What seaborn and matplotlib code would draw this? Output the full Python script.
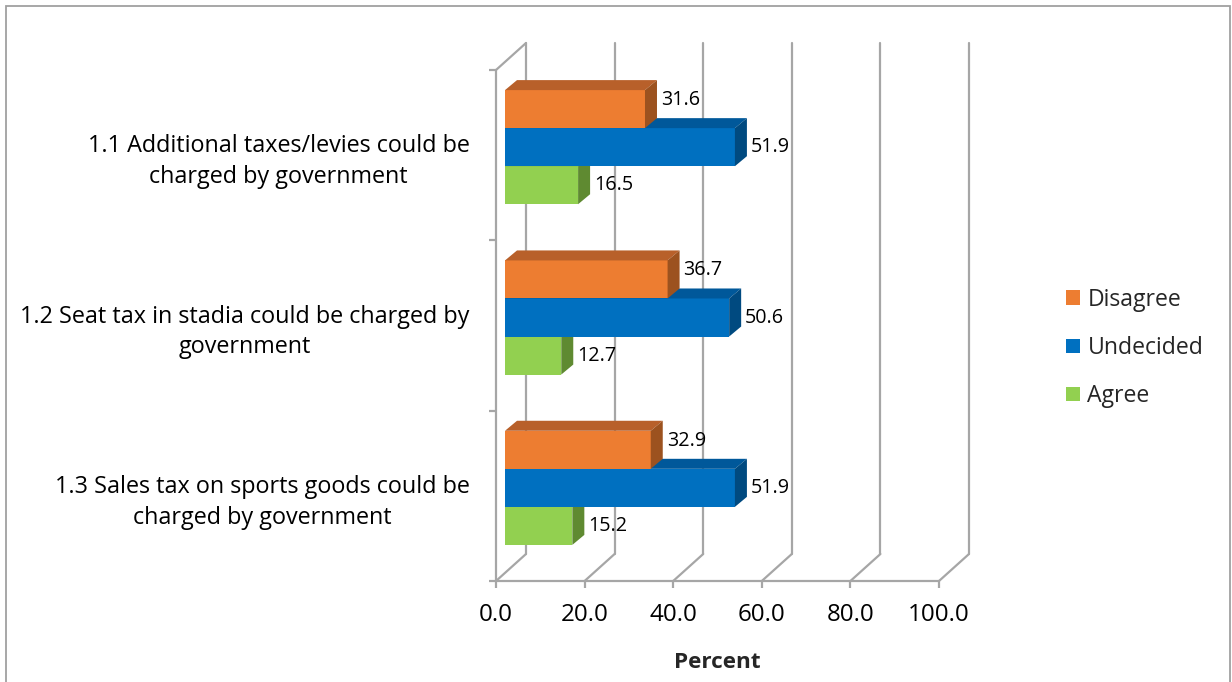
import matplotlib
matplotlib.use("Agg")
import matplotlib.pyplot as plt
from matplotlib.patches import Polygon, Rectangle
from matplotlib.lines import Line2D
from matplotlib.transforms import ScaledTranslation
import numpy as np
import pandas as pd
import seaborn as sns

# ---- data -------------------------------------------------------------
questions = [
    "1.1 Additional taxes/levies could be\ncharged by government",
    "1.2 Seat tax in stadia could be charged by\ngovernment",
    "1.3 Sales tax on sports goods could be\ncharged by government",
]
responses = ["Disagree", "Undecided", "Agree"]
disagree = [31.6, 36.7, 32.9]
undecided = [51.9, 50.6, 51.9]
agree = [16.5, 12.7, 15.2]
x_ticks = [0, 20, 40, 60, 80, 100]

front_colors = ["#ED7D31", "#0070C0", "#92D050"]
top_colors = ["#B8602A", "#00589A", "#73A640"]
side_colors = ["#9C521F", "#004A80", "#5F8A31"]

df = pd.DataFrame({
    "question": np.repeat(questions, 3),
    "response": responses * 3,
    "percent": [v for trio in zip(disagree, undecided, agree) for v in trio],
})

# ---- figure / axes -------------------------------------------------------
sns.set_theme(style="white")
plt.rcParams["font.family"] = ["Open Sans", "DejaVu Sans"]

W, H, DPI = 1232, 682, 100
fig = plt.figure(figsize=(W / DPI, H / DPI), dpi=DPI)
# front plane of the 3-D box, in pixels
left_px, right_px, top_px, bot_px = 496, 939, 70, 581
ax = fig.add_axes([left_px / W, 1 - bot_px / H,
                   (right_px - left_px) / W, (bot_px - top_px) / H])

sns.barplot(data=df, y="question", x="percent", hue="response",
            hue_order=responses, palette=front_colors, orient="h",
            width=0.67, saturation=1, ax=ax, linewidth=0)

ax.set_xlim(0, 100)
ax.set_ylim(2.5, -0.5)
for s in ax.spines.values():
    s.set_visible(False)

px_x = (right_px - left_px) / 100.0      # pixels per percent
px_y = (bot_px - top_px) / 3.0           # pixels per category band

def px(dx, dy):
    """pixel offset (right, up) as a translation transform"""
    return ScaledTranslation(dx / DPI, dy / DPI, fig.dpi_scale_trans)

grid_c = "#A6A6A6"
grid_lw = 1.6

# box depth (back wall offset) in data units
Dx, Dy = 30 / px_x, 27 / px_y
for v in x_ticks:
    # back-wall vertical gridline
    ax.add_line(Line2D([v + Dx, v + Dx], [2.5 - Dy, -0.5 - Dy], color=grid_c,
                       lw=grid_lw, clip_on=False, zorder=1))
    # floor diagonal
    ax.add_line(Line2D([v, v + Dx], [2.5, 2.5 - Dy], color=grid_c,
                       lw=grid_lw, clip_on=False, zorder=1))
# floor front edge and left wall
ax.add_line(Line2D([0, 100], [2.5, 2.5], color=grid_c, lw=grid_lw,
                   clip_on=False, zorder=1))
ax.add_line(Line2D([0, 0], [2.5, -0.5], color=grid_c, lw=grid_lw,
                   clip_on=False, zorder=1))
ax.add_line(Line2D([0, Dx], [-0.5, -0.5 - Dy], color=grid_c, lw=grid_lw,
                   clip_on=False, zorder=1))

# ---- 3-D bars -----------------------------------------------------------
front_shift = ax.transData + px(9, 8)
ddx, ddy = 12 / px_x, 10 / px_y          # bar depth in data units
bars = [p for p in ax.patches if isinstance(p, Rectangle) and p.get_width() > 0]
rgb_front = [np.array(matplotlib.colors.to_rgb(c)) for c in front_colors]
label_dy = {0: 9, 1: 0, 2: 0}
for p in bars:
    y0 = p.get_y()
    h = p.get_height()
    w = p.get_width()
    k = int(np.argmin([np.abs(c - np.array(p.get_facecolor()[:3])).sum()
                       for c in rgb_front]))
    z = 5 + (3 - k)
    p.set_transform(front_shift)
    p.set_zorder(z)
    top = Polygon([(0, y0), (w, y0), (w + ddx, y0 - ddy), (ddx, y0 - ddy)],
                  closed=True, facecolor=top_colors[k], edgecolor="none",
                  transform=front_shift, zorder=z + 0.1, clip_on=False)
    side = Polygon([(w, y0), (w + ddx, y0 - ddy), (w + ddx, y0 + h - ddy), (w, y0 + h)],
                   closed=True, facecolor=side_colors[k], edgecolor="none",
                   transform=front_shift, zorder=z + 0.2, clip_on=False)
    ax.add_patch(top)
    ax.add_patch(side)
    ax.text(w, y0 + h / 2, f"{w:.1f}", ha="left", va="center", fontsize=14.2,
            color="black", transform=ax.transData + px(9 + 12 + 4, 8 + label_dy[k]),
            zorder=20, clip_on=False)

# ---- ticks and labels -----------------------------------------------------
ax.set_xticks(x_ticks)
ax.set_xticklabels([f"{v:.1f}" for v in x_ticks], fontsize=17.4)
ax.tick_params(axis="x", bottom=True, length=5, width=grid_lw, color=grid_c,
               pad=11, labelcolor="black")

ax.set_yticks([-0.5, 0.5, 1.5, 2.5])
ax.set_yticklabels([])
ax.tick_params(axis="y", left=True, length=5, width=grid_lw, color=grid_c)
ax.set_yticks([0, 1, 2], minor=True)
ax.set_yticklabels(questions, minor=True, fontsize=16.8, linespacing=1.38)
ax.tick_params(axis="y", which="minor", length=0, pad=19, labelcolor="black")
for t in ax.get_yticklabels(minor=True):
    t.set_multialignment("center")

ax.set_ylabel("")
ax.set_xlabel("Percent", fontsize=16.2, fontweight="bold", labelpad=18)

# ---- legend ------------------------------------------------------------
handles, labels = ax.get_legend_handles_labels()
if ax.get_legend() is not None:
    ax.get_legend().remove()
fig.legend(handles, labels, loc="center left",
           bbox_to_anchor=(1066 / W, 1 - 348 / H), frameon=False,
           fontsize=16.6, handlelength=0.6, handleheight=0.6,
           handletextpad=0.33, labelspacing=1.05, borderpad=0, borderaxespad=0)

# chart-area border
fig.add_artist(Rectangle((6 / W, -0.01), (1230 - 6) / W, 1 - 6 / H + 0.01,
                         transform=fig.transFigure, fill=False,
                         edgecolor="#A0A0A0", lw=1.3))

fig.savefig("out.png", dpi=DPI)
